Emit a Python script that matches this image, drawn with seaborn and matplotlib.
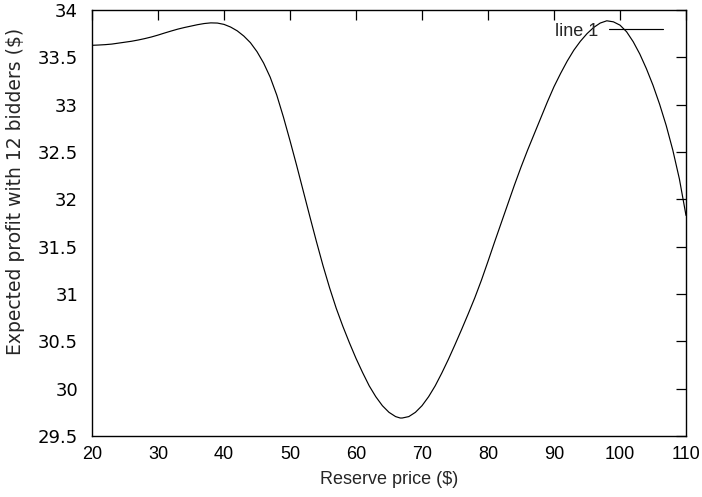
import matplotlib
matplotlib.use("Agg")
import matplotlib.pyplot as plt
import seaborn as sns
import pandas as pd

reserve_price = [20, 21, 22, 23, 24, 25, 26, 27, 28, 29, 30, 31, 32, 33, 34, 35,
                 36, 37, 38, 39, 40, 41, 42, 43, 44, 45, 46, 47, 48, 49, 50, 51,
                 52, 53, 54, 55, 56, 57, 58, 59, 60, 61, 62, 63, 64, 65, 66, 66.7,
                 67, 68, 69, 70, 71, 72, 73, 74, 75, 76, 77, 78, 79, 80, 81, 82,
                 83, 84, 85, 86, 87, 88, 89, 90, 91, 92, 93, 94, 95, 96, 97, 98,
                 99, 100, 101, 102, 103, 104, 105, 106, 107, 108, 109, 110]
expected_profit = [33.627, 33.630, 33.634, 33.640, 33.650, 33.660, 33.670, 33.683,
                   33.698, 33.715, 33.735, 33.757, 33.778, 33.798, 33.815, 33.830,
                   33.845, 33.857, 33.864, 33.862, 33.848, 33.820, 33.780, 33.725,
                   33.655, 33.560, 33.440, 33.290, 33.100, 32.870, 32.620, 32.360,
                   32.090, 31.820, 31.555, 31.300, 31.065, 30.850, 30.660, 30.485,
                   30.320, 30.170, 30.030, 29.915, 29.820, 29.750, 29.705, 29.690,
                   29.690, 29.705, 29.750, 29.820, 29.915, 30.030, 30.165, 30.310,
                   30.465, 30.625, 30.790, 30.960, 31.145, 31.345, 31.550, 31.750,
                   31.950, 32.150, 32.340, 32.520, 32.690, 32.860, 33.030, 33.190,
                   33.330, 33.460, 33.575, 33.670, 33.750, 33.815, 33.862, 33.886,
                   33.875, 33.840, 33.770, 33.665, 33.535, 33.380, 33.205, 33.005,
                   32.780, 32.520, 32.215, 31.830]

x_ticks = [20, 30, 40, 50, 60, 70, 80, 90, 100, 110]
y_ticks = [29.5, 30, 30.5, 31, 31.5, 32, 32.5, 33, 33.5, 34]
y_tick_labels = ["29.5", "30", "30.5", "31", "31.5", "32", "32.5", "33", "33.5", "34"]

df = pd.DataFrame({"Reserve price": reserve_price, "Expected profit": expected_profit})

sns.set_style("white")
plt.rcParams["font.family"] = ["Liberation Sans", "DejaVu Sans"]

fig = plt.figure(figsize=(7.02, 4.97), dpi=100)
ax = fig.add_axes([92 / 702, 1 - 436 / 497, (686 - 92) / 702, (436 - 10) / 497])

sns.lineplot(data=df, x="Reserve price", y="Expected profit", ax=ax,
             color="black", linewidth=0.85, label="line 1")

ax.set_xlim(20, 110)
ax.set_ylim(29.5, 34)
ax.set_xticks(x_ticks)
ax.set_xticklabels([str(t) for t in x_ticks])
ax.set_yticks(y_ticks)
ax.set_yticklabels(y_tick_labels, fontfamily=["DejaVu Sans"])
ax.tick_params(direction="in", length=7, width=0.9, top=True, right=True,
               labelsize=13, colors="black")
ax.tick_params(axis="x", pad=7)
ax.tick_params(axis="y", pad=10)
for s in ax.spines.values():
    s.set_color("black")
    s.set_linewidth(1.0)
    s.set_visible(True)

ax.set_xlabel("Reserve price ($)", fontsize=13, labelpad=6)
ax.set_ylabel("Expected profit with 12 bidders ($)", fontsize=13.5,
              fontfamily=["DejaVu Sans"])
ax.yaxis.set_label_coords((25 - 92) / 594, 1 - (191 - 10) / 426)

leg = ax.legend(loc="upper right", bbox_to_anchor=(1 - 10 / 594, 1.0),
                frameon=False, markerfirst=False, fontsize=13,
                handlelength=3.0, handletextpad=0.6, borderaxespad=0.3)
for line in leg.get_lines():
    line.set_color("black")
    line.set_linewidth(0.85)

fig.savefig("out.png", dpi=100)
